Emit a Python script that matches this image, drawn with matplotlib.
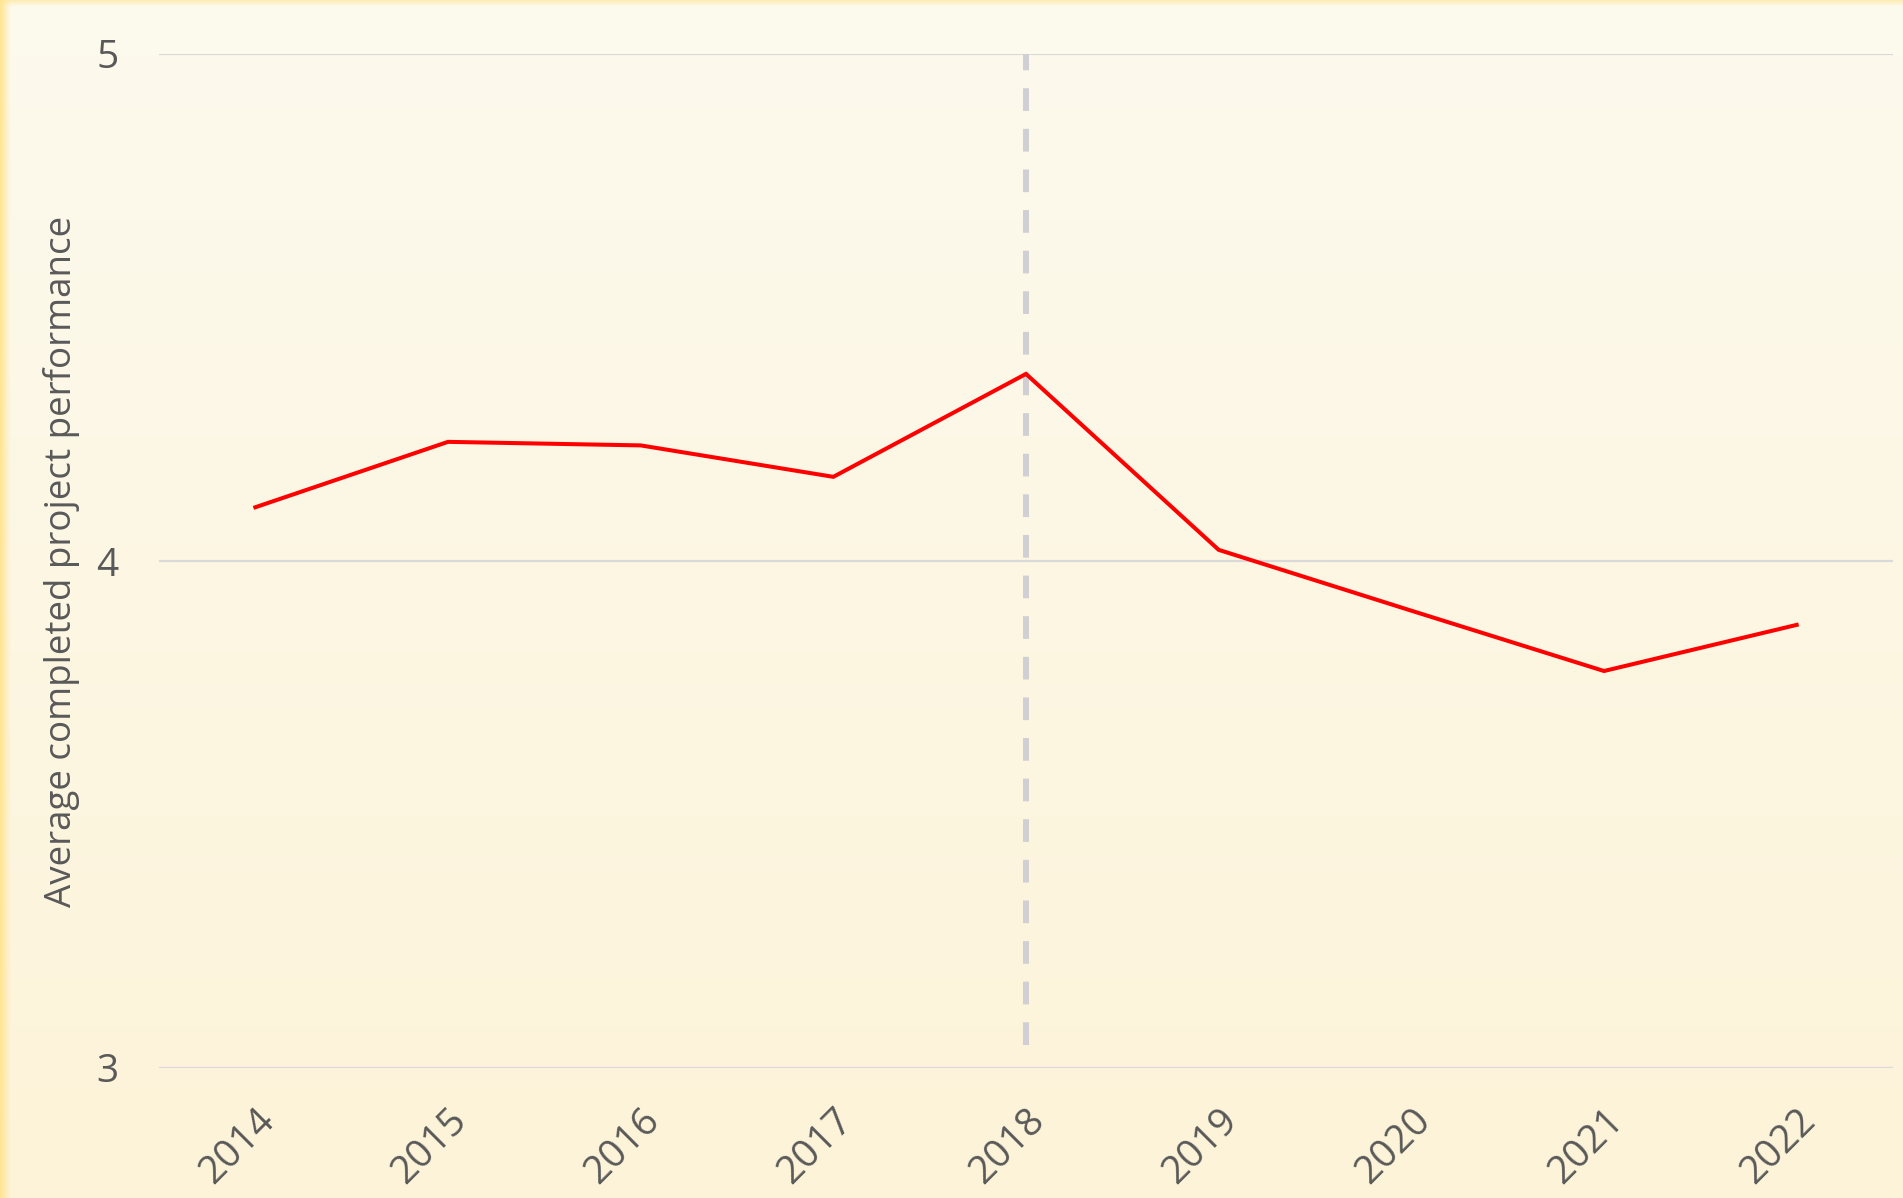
import numpy as np
import matplotlib
matplotlib.use("Agg")
import matplotlib.pyplot as plt
import matplotlib.transforms as mtransforms

# data
years = ["2014", "2015", "2016", "2017", "2018", "2019", "2020", "2021", "2022"]
performance = [4.106, 4.235, 4.228, 4.166, 4.369, 4.022, 3.902, 3.783, 3.874]
marker_year = "2018"
y_ticks = [3, 4, 5]

plt.rcParams['font.family'] = ['Open Sans', 'DejaVu Sans']

W, H = 1903, 1198
fig = plt.figure(figsize=(W / 100, H / 100), dpi=100)

# background: soft cream gradient with a yellow strip on the left and top
bg = fig.add_axes([0, 0, 1, 1], zorder=-10)
bg.axis('off')
ty = np.linspace(0, 1, H)[:, None]
top_col = np.array([253, 250, 238]) / 255
bot_col = np.array([252, 243, 216]) / 255
img = top_col * (1 - ty[..., None]) + bot_col * ty[..., None]
img = np.repeat(img, W, axis=1)
edge = np.array([255, 228, 145]) / 255
xs = np.arange(W)
wl = np.clip(1 - xs / 11.0, 0, 1) ** 1.2
img = img * (1 - wl[None, :, None]) + edge * wl[None, :, None]
ys = np.arange(H)
wt = np.clip(1 - ys / 6.0, 0, 1) * 0.6
img = img * (1 - wt[:, None, None]) + edge * wt[:, None, None]
bg.imshow(img, aspect='auto', extent=[0, 1, 0, 1])

ax = fig.add_axes([159 / W, 1 - 1068 / H, (1893 - 159) / W, (1068 - 54) / H])
ax.set_facecolor('none')

x = np.arange(len(years))
ax.plot(x, performance, color='#ff0000', lw=2.9, solid_joinstyle='miter', zorder=4)

xi = years.index(marker_year)
ax.vlines(xi, 3.045, 5, colors='#d0cfd4', lw=4.3, linestyles=(0, (3.8, 3.0)), zorder=3)

ax.set_xlim(-0.5, len(years) - 0.5)
ax.set_ylim(3, 5)
ax.set_yticks(y_ticks)
ax.set_yticklabels([str(v) for v in y_ticks])
ax.set_xticks(x)
ax.set_xticklabels(years, rotation=45, ha='right', va='top', rotation_mode='anchor')

# nudge the rotated year labels slightly left
shift = mtransforms.ScaledTranslation(-9 / 100, 0, fig.dpi_scale_trans)
for lab in ax.get_xticklabels():
    lab.set_transform(lab.get_transform() + shift)

ax.grid(axis='y', color='#d9d9d9', lw=1.6)
ax.set_axisbelow(True)
for s in ax.spines.values():
    s.set_visible(False)
ax.tick_params(length=0, labelsize=28, colors='#595959')
ax.tick_params(axis='y', pad=29)
ax.tick_params(axis='x', pad=24)

ax.set_ylabel('Average completed project performance', fontsize=26.5, color='#595959', labelpad=12)

fig.savefig('out.png', dpi=100)
